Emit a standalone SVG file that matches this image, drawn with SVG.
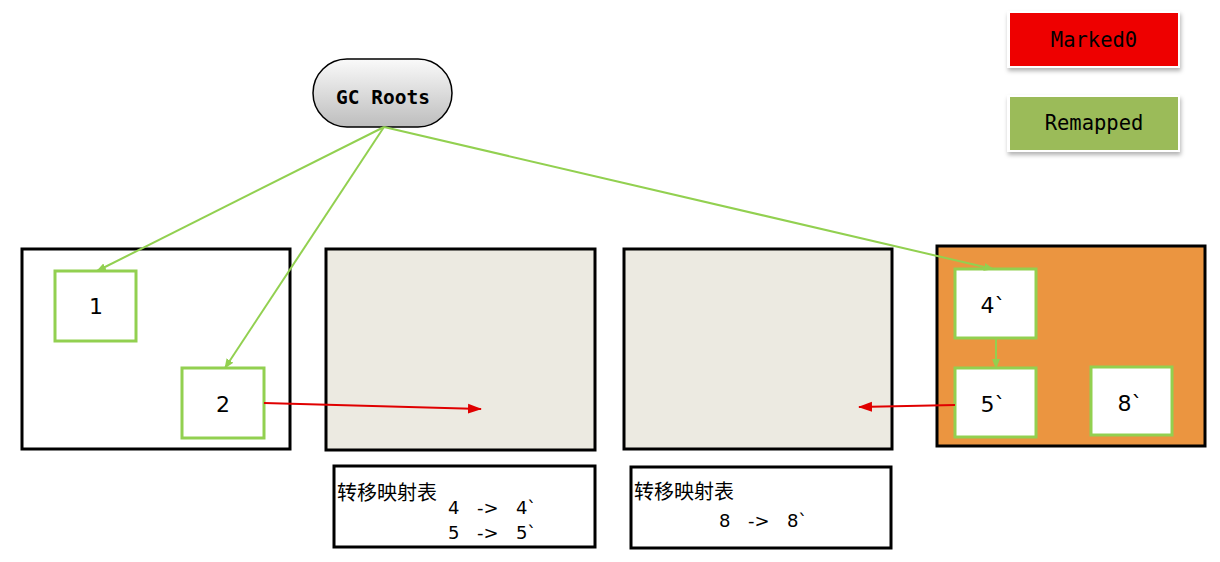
<svg xmlns="http://www.w3.org/2000/svg" width="1220" height="562" viewBox="0 0 1220 562">
<style>
.region{stroke:#000;stroke-width:3}
.obj{fill:#fff;stroke:#92D050;stroke-width:3}
.lbl{font-family:"DejaVu Sans","Liberation Sans",sans-serif;font-size:22px;fill:#000;text-anchor:middle}
.g{fill:none;stroke:#92D050;stroke-width:2}
.r{fill:none;stroke:#E00000;stroke-width:2}
.mono{font-family:"DejaVu Sans Mono","Liberation Mono",monospace;font-size:20.5px;fill:#000;text-anchor:middle}
.cjk{font-family:"Liberation Sans","Noto Sans CJK SC",sans-serif;font-size:20px;fill:#000}
.map{font-family:"DejaVu Sans","Liberation Sans",sans-serif;font-size:18px;fill:#000;word-spacing:3px}
</style>
<defs>
<linearGradient id="gcg" x1="0" y1="0" x2="0" y2="1">
<stop offset="0" stop-color="#fafafa"/>
<stop offset="1" stop-color="#bdbdbd"/>
</linearGradient>
<filter id="sh" x="-10%" y="-20%" width="130%" height="150%">
<feDropShadow dx="1" dy="3" stdDeviation="2" flood-color="#000" flood-opacity="0.3"/>
</filter>
<marker id="ag" markerWidth="10" markerHeight="10" refX="9" refY="5" orient="auto" markerUnits="userSpaceOnUse">
<path d="M0,1 L10,5 L0,9 z" fill="#92D050"/>
</marker>
<marker id="ar" markerWidth="14" markerHeight="12" refX="13" refY="6" orient="auto" markerUnits="userSpaceOnUse">
<path d="M0,1 L14,6 L0,11 z" fill="#E00000"/>
</marker>
</defs>
<rect width="1220" height="562" fill="#fff"/>

<g id="legend-marked0">
<rect x="1007" y="11" width="173" height="57" fill="#fff" filter="url(#sh)"/>
<rect x="1010" y="13" width="168" height="53" fill="#EE0000"/>
<text class="mono" x="1094" y="47">Marked0</text>
</g>
<g id="legend-remapped">
<rect x="1007" y="95" width="173" height="57" fill="#fff" filter="url(#sh)"/>
<rect x="1010" y="97" width="168" height="53" fill="#9BBB59"/>
<text class="mono" x="1094" y="130">Remapped</text>
</g>

<g id="gc-roots">
<rect x="313" y="59" width="139" height="68" rx="34" ry="34" fill="url(#gcg)" stroke="#000" stroke-width="1.5"/>
<text x="383" y="104" font-family="DejaVu Sans Mono,Liberation Mono,monospace" font-weight="bold" font-size="19.5" text-anchor="middle" fill="#000">GC Roots</text>
</g>

<g id="region-1">
<rect class="region" x="22" y="249" width="268" height="200" fill="#fff"/>
</g>
<g id="region-2">
<rect class="region" x="326" y="249" width="269" height="201" fill="#ECEAE1"/>
</g>
<g id="region-3">
<rect class="region" x="624" y="249" width="268" height="200" fill="#ECEAE1"/>
</g>
<g id="region-4">
<rect class="region" x="937" y="246" width="268" height="200" fill="#EB9540"/>
</g>

<g id="node-1">
<rect class="obj" x="55" y="271" width="81" height="70"/>
<text class="lbl" x="96" y="314">1</text>
</g>
<g id="node-2">
<rect class="obj" x="182" y="368" width="82" height="70"/>
<text class="lbl" x="223" y="412">2</text>
</g>
<g id="node-4p">
<rect class="obj" x="955" y="269" width="81" height="69"/>
<text class="lbl" x="993" y="313">4`</text>
</g>
<g id="node-5p">
<rect class="obj" x="955" y="368" width="81" height="69"/>
<text class="lbl" x="993" y="412">5`</text>
</g>
<g id="node-8p">
<rect class="obj" x="1091" y="367" width="81" height="68"/>
<text class="lbl" x="1130" y="411">8`</text>
</g>

<g id="table-1">
<rect x="334" y="466" width="261" height="81" fill="#fff" stroke="#000" stroke-width="3"/>
<text class="cjk" x="337" y="500">转移映射表</text>
<text class="map" x="448" y="514" xml:space="preserve">4  -&gt;  4`</text>
<text class="map" x="448" y="539" xml:space="preserve">5  -&gt;  5`</text>
</g>
<g id="table-2">
<rect x="631" y="467" width="260" height="81" fill="#fff" stroke="#000" stroke-width="3"/>
<text class="cjk" x="634" y="499">转移映射表</text>
<text class="map" x="719" y="527" xml:space="preserve">8  -&gt;  8`</text>
</g>

<g id="connectors">
<line class="g" x1="384" y1="127" x2="97" y2="271" marker-end="url(#ag)"/>
<line class="g" x1="384" y1="127" x2="225" y2="368" marker-end="url(#ag)"/>
<line class="g" x1="384" y1="127" x2="993" y2="269" marker-end="url(#ag)"/>
<line class="g" x1="996" y1="338" x2="996" y2="368" marker-end="url(#ag)"/>
<line class="r" x1="264" y1="403" x2="481" y2="409" marker-end="url(#ar)"/>
<line class="r" x1="955" y1="405" x2="859" y2="407" marker-end="url(#ar)"/>
</g>
</svg>
